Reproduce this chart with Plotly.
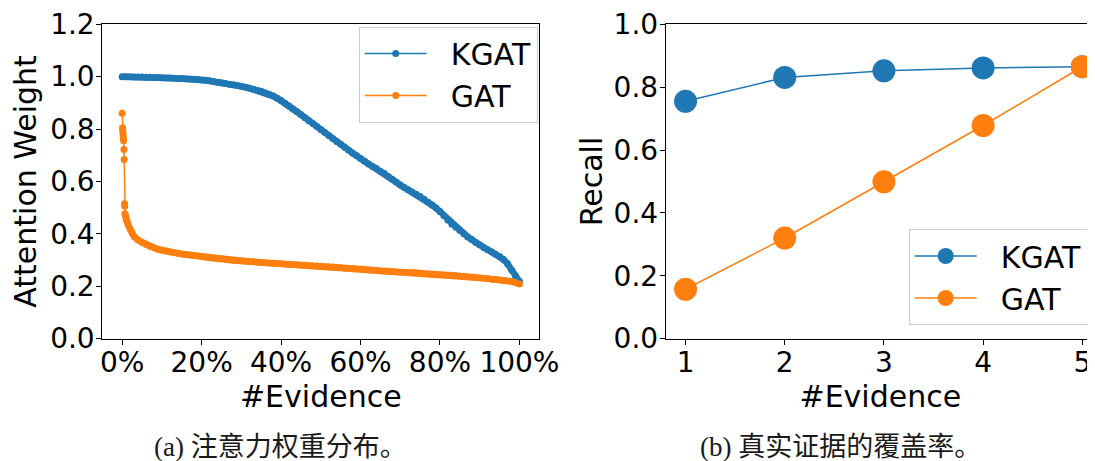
import plotly.graph_objects as go

# ---------------- data ----------------
# (a) attention weight distribution, x in % of evidence
kgat_x = list(range(0, 101))
kgat_w = [1.000, 1.000, 1.000, 0.999, 0.999, 0.999, 0.998, 0.998, 0.997, 0.997,
          0.996, 0.995, 0.995, 0.994, 0.993, 0.993, 0.992, 0.991, 0.990, 0.989,
          0.987, 0.986, 0.984, 0.982, 0.979, 0.977, 0.974, 0.971, 0.969, 0.966,
          0.963, 0.960, 0.956, 0.952, 0.948, 0.944, 0.939, 0.933, 0.926, 0.918,
          0.909, 0.899, 0.888, 0.877, 0.866, 0.855, 0.843, 0.832, 0.821, 0.810,
          0.798, 0.787, 0.775, 0.764, 0.753, 0.742, 0.731, 0.719, 0.708, 0.698,
          0.688, 0.677, 0.667, 0.658, 0.649, 0.639, 0.630, 0.619, 0.608, 0.597,
          0.586, 0.577, 0.568, 0.560, 0.551, 0.543, 0.532, 0.521, 0.510, 0.499,
          0.485, 0.469, 0.452, 0.437, 0.425, 0.413, 0.400, 0.388, 0.378, 0.367,
          0.357, 0.348, 0.339, 0.331, 0.322, 0.313, 0.302, 0.286, 0.262, 0.240,
          0.218]

gat_x = [0.0, 0.1, 0.15, 0.2, 0.25, 0.3, 0.35, 0.45, 0.5, 0.6, 0.65, 0.7, 0.8,
         1.0, 1.2, 1.5, 2.0, 2.5, 3, 4, 5, 6, 7, 8, 9] + list(range(10, 101))
gat_w = [0.860, 0.805, 0.795, 0.785, 0.775, 0.765, 0.755, 0.722, 0.684, 0.515,
         0.505, 0.477, 0.470, 0.455, 0.448, 0.435, 0.418, 0.403, 0.390, 0.376,
         0.367, 0.359, 0.352, 0.347, 0.341,
         0.337, 0.334, 0.331, 0.328, 0.326, 0.323, 0.321, 0.319, 0.317, 0.315,
         0.313, 0.311, 0.309, 0.307, 0.305, 0.304, 0.302, 0.300, 0.298, 0.297,
         0.296, 0.295, 0.294, 0.293, 0.292, 0.291, 0.290, 0.289, 0.288, 0.287,
         0.286, 0.285, 0.284, 0.283, 0.282, 0.281, 0.280, 0.279, 0.278, 0.277,
         0.276, 0.275, 0.274, 0.273, 0.272, 0.271, 0.270, 0.269, 0.268, 0.267,
         0.266, 0.265, 0.263, 0.262, 0.260, 0.259, 0.258, 0.257, 0.256, 0.255,
         0.254, 0.253, 0.252, 0.252, 0.251, 0.250, 0.249, 0.248, 0.247, 0.246,
         0.245, 0.244, 0.243, 0.242, 0.241, 0.239, 0.238, 0.236, 0.235, 0.233,
         0.232, 0.230, 0.229, 0.227, 0.226, 0.224, 0.222, 0.220, 0.218, 0.214,
         0.208]

# (b) recall of true evidence
n_evidence = [1, 2, 3, 4, 5]
kgat_recall = [0.755, 0.831, 0.852, 0.861, 0.865]
gat_recall = [0.157, 0.320, 0.499, 0.678, 0.865]

x_ticks_a = [0, 20, 40, 60, 80, 100]
x_ticklabels_a = ["0%", "20%", "40%", "60%", "80%", "100%"]
y_ticks_a = [0.0, 0.2, 0.4, 0.6, 0.8, 1.0, 1.2]
y_ticks_b = [0.0, 0.2, 0.4, 0.6, 0.8, 1.0]

caption_a = "(a) 注意力权重分布。"
caption_b = "(b) 真实证据的覆盖率。"

BLUE = "#1f77b4"
ORANGE = "#ff7f0e"
FONT = "DejaVu Sans"
CAP_FONT = "Liberation Serif, Noto Sans CJK SC"
NB = "\u00a0\u00a0"  # spacing between legend symbol and label

# the page body has an 8px margin, so the figure is 8px smaller than the window
OX, OY = 8, 8
W, H = 1095 - OX, 461 - OY


def px(x):
    return (x - OX) / W


def py(y):
    return (H - (y - OY)) / H


# the GAT band starts after its steep initial drop (thin line there)
GAT_BAND_START = 11

fig = go.Figure()

# thick bands (dense markers in the original) underneath, no legend entries
fig.add_trace(go.Scatter(x=kgat_x, y=kgat_w, mode="lines", showlegend=False,
                         line=dict(color=BLUE, width=6.5), hoverinfo="skip",
                         xaxis="x", yaxis="y"))
fig.add_trace(go.Scatter(x=gat_x[GAT_BAND_START:], y=gat_w[GAT_BAND_START:], mode="lines",
                         showlegend=False, line=dict(color=ORANGE, width=6.5),
                         hoverinfo="skip", xaxis="x", yaxis="y"))

fig.add_trace(go.Scatter(x=kgat_x, y=kgat_w, name=NB + "KGAT", mode="lines+markers",
                         line=dict(color=BLUE, width=1.5),
                         marker=dict(color=BLUE, size=7),
                         xaxis="x", yaxis="y", legend="legend"))
fig.add_trace(go.Scatter(x=gat_x, y=gat_w, name=NB + "GAT", mode="lines+markers",
                         line=dict(color=ORANGE, width=1.5),
                         marker=dict(color=ORANGE, size=7),
                         xaxis="x", yaxis="y", legend="legend"))

fig.add_trace(go.Scatter(x=n_evidence, y=kgat_recall, name=NB + "KGAT", mode="lines+markers",
                         line=dict(color=BLUE, width=1.5),
                         marker=dict(color=BLUE, size=23),
                         xaxis="x2", yaxis="y2", legend="legend2", cliponaxis=False))
fig.add_trace(go.Scatter(x=n_evidence, y=gat_recall, name=NB + "GAT", mode="lines+markers",
                         line=dict(color=ORANGE, width=1.5),
                         marker=dict(color=ORANGE, size=23),
                         xaxis="x2", yaxis="y2", legend="legend2", cliponaxis=False))

axis_common = dict(showline=True, linecolor="black", linewidth=1,
                   ticks="outside", ticklen=5, tickwidth=1, tickcolor="black",
                   showgrid=False, zeroline=False, automargin=False,
                   tickfont=dict(family=FONT, size=28, color="black"))

ydom = [py(338.6), py(24.3)]
title_font = dict(family=FONT, size=30, color="black")

fig.update_layout(
    width=W, height=H,
    margin=dict(l=0, r=0, t=0, b=0),
    paper_bgcolor="white", plot_bgcolor="white",
    xaxis=dict(domain=[px(102.3), px(539.3)], range=[-5, 105],
               tickvals=x_ticks_a, ticktext=x_ticklabels_a, mirror=True, anchor="y",
               ticklabelstandoff=-6,
               title=dict(text="#Evidence", font=title_font, standoff=2),
               **axis_common),
    yaxis=dict(domain=ydom, range=[0, 1.2], tickvals=y_ticks_a, tickformat=".1f",
               mirror=True, anchor="x", ticklabelstandoff=-4,
               title=dict(text="Attention Weight", font=title_font, standoff=6),
               **axis_common),
    xaxis2=dict(domain=[px(665.7), 1.0], range=[0.8, 5.128], tickvals=n_evidence,
                mirror=True, anchor="y2", ticklabelstandoff=-6,
                title=dict(text="#Evidence", font=title_font, standoff=2),
                **axis_common),
    yaxis2=dict(domain=ydom, range=[0, 1.0], tickvals=y_ticks_b, tickformat=".1f",
                mirror=False, anchor="x2", ticklabelstandoff=-4,
                title=dict(text="Recall", font=title_font, standoff=2),
                **axis_common),
    legend=dict(x=px(537.7), y=py(26.5), xanchor="right", yanchor="top",
                bgcolor="rgba(255,255,255,0.8)", bordercolor="#cccccc", borderwidth=1,
                font=dict(family=FONT, size=30, color="black"), itemwidth=62,
                tracegroupgap=0),
    legend2=dict(x=px(1087.7), y=py(325), xanchor="right", yanchor="bottom",
                 bgcolor="rgba(255,255,255,0.8)", bordercolor="#cccccc", borderwidth=1,
                 font=dict(family=FONT, size=30, color="black"), itemwidth=62,
                 tracegroupgap=0),
    annotations=[
        dict(text=caption_a, x=px(280), y=py(447), xref="paper", yref="paper",
             xanchor="center", yanchor="middle", showarrow=False,
             font=dict(family=CAP_FONT, size=27, color="#1a1a1a")),
        dict(text=caption_b, x=px(840), y=py(447), xref="paper", yref="paper",
             xanchor="center", yanchor="middle", showarrow=False,
             font=dict(family=CAP_FONT, size=27, color="#1a1a1a")),
    ],
)

fig.write_html("out.html")
